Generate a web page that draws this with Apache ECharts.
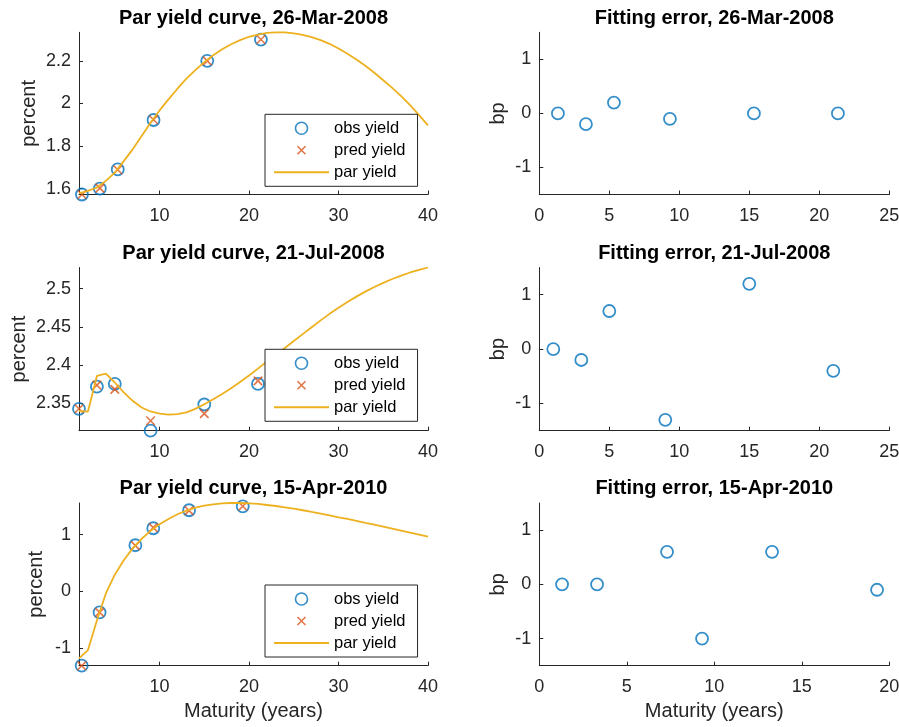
<!DOCTYPE html>
<html>
<head>
<meta charset="utf-8">
<script src="https://cdn.jsdelivr.net/npm/echarts@6/dist/echarts.min.js"></script>
<style>html,body{margin:0;padding:0;background:#fff}#c{width:899px;height:727px}</style>
</head>
<body>
<div id="c"></div>
<script>
// ---------------- data ----------------
const dates = ['26-Mar-2008', '21-Jul-2008', '15-Apr-2010'];
const parMat = [1,2,3,4,5,6,7,8,9,10,11,12,13,14,15,16,17,18,19,20,21,22,23,24,25,26,27,28,29,30,31,32,33,34,35,36,37,38,39,40];

const mat1 = [1.33, 3.33, 5.33, 9.33, 15.33, 21.33];
const obs1 = [1.572, 1.600, 1.690, 1.922, 2.200, 2.300];
const pred1 = [1.572, 1.602, 1.688, 1.923, 2.200, 2.300];
const err1 = [0, -0.2, 0.2, -0.1, 0, 0];
const par1 = [1.577,1.589,1.605,1.636,1.675,1.729,1.784,1.847,1.909,1.967,2.019,2.069,2.116,2.156,2.194,2.226,2.254,2.278,2.297,2.313,2.323,2.331,2.334,2.334,2.329,2.322,2.311,2.297,2.280,2.258,2.233,2.206,2.177,2.144,2.109,2.073,2.034,1.992,1.945,1.897];

const mat2 = [1, 3, 5, 9, 15, 21];
const obs2 = [2.3431, 2.3720, 2.3755, 2.3145, 2.3487, 2.3755];
const pred2 = [2.3431, 2.3740, 2.3685, 2.3275, 2.3367, 2.3795];
const err2 = [0, -0.2, 0.7, -1.3, 1.2, -0.4];
const par2 = [2.3405,2.3395,2.3860,2.3890,2.3774,2.3644,2.3535,2.3448,2.3396,2.3369,2.3356,2.3362,2.3385,2.3430,2.3490,2.3555,2.3625,2.3700,2.3780,2.3865,2.3955,2.4050,2.4145,2.4225,2.4315,2.4405,2.4495,2.4585,2.4670,2.4750,2.4825,2.4895,2.4960,2.5020,2.5075,2.5125,2.5170,2.5210,2.5245,2.5275];

const mat3 = [1.3, 3.3, 7.3, 9.3, 13.3, 19.3];
const obs3 = [-1.317, -0.376, 0.811, 1.111, 1.429, 1.499];
const pred3 = [-1.317, -0.376, 0.805, 1.121, 1.423, 1.500];
const err3 = [0, 0, 0.6, -1.0, 0.6, -0.1];
const par3 = [-1.187,-1.041,-0.520,-0.040,0.290,0.545,0.755,0.925,1.065,1.180,1.275,1.358,1.423,1.476,1.511,1.534,1.552,1.557,1.557,1.552,1.540,1.522,1.504,1.481,1.458,1.429,1.399,1.370,1.340,1.305,1.275,1.240,1.205,1.176,1.141,1.106,1.071,1.035,1.000,0.965];

// tick values / labels
const yTicks1 = [1.6, 1.8, 2, 2.2];        const yLabels1 = ['1.6', '1.8', '2', '2.2'];
const yTicks2 = [2.35, 2.4, 2.45, 2.5];    const yLabels2 = ['2.35', '2.4', '2.45', '2.5'];
const yTicks3 = [-1, 0, 1];                const yLabels3 = ['-1', '0', '1'];
const xTicksPar = [10, 20, 30, 40];        const xLabelsPar = ['10', '20', '30', '40'];
const errTicks = [-1, 0, 1];               const errLabels = ['-1', '0', '1'];
const xTicksErrA = [0, 5, 10, 15, 20, 25]; const xLabelsErrA = ['0', '5', '10', '15', '20', '25'];
const xTicksErrB = [0, 5, 10, 15, 20];     const xLabelsErrB = ['0', '5', '10', '15', '20'];

const legendNames = ['obs yield', 'pred yield', 'par yield'];

// ---------------- styling / layout ----------------
const FONT = '"Liberation Sans", Arial, Helvetica, sans-serif';
const AX = '#262626';
const C_OBS = '#0072BD', C_PRED = '#D95319', C_PAR = '#EDB120';
const leftX = 79, leftW = 349, rightX = 539.3, rightW = 350;
const rowTop = [32.3, 267.5, 503];
const rowH = [162.2, 163.2, 162.7];
const titleTop = [8.5, 243, 478.5];
const legendTop = [114.3, 349.3, 585];
const yNameGapLeft = [40, 50, 33];
const CROSS = 'path://M0,0L10,10M10,0L0,10';
const CROSS_LEGEND = 'path://M0,0L0.01,0M2,2L10,10M10,2L2,10M12,12L12.01,12';

function fmt(ticks, labels) {
  return function (v) {
    for (let i = 0; i < ticks.length; i++) if (Math.abs(ticks[i] - v) < 1e-9) return labels[i];
    return '';
  };
}
function pairs(xs, ys) { return xs.map((x, i) => [x, ys[i]]); }

const panels = [
  { mat: mat1, obs: obs1, pred: pred1, err: err1, par: par1, yT: yTicks1, yL: yLabels1, xeT: xTicksErrA, xeL: xLabelsErrA, xeMax: 25 },
  { mat: mat2, obs: obs2, pred: pred2, err: err2, par: par2, yT: yTicks2, yL: yLabels2, xeT: xTicksErrA, xeL: xLabelsErrA, xeMax: 25 },
  { mat: mat3, obs: obs3, pred: pred3, err: err3, par: par3, yT: yTicks3, yL: yLabels3, xeT: xTicksErrB, xeL: xLabelsErrB, xeMax: 20 }
];

const grid = [], xAxis = [], yAxis = [], series = [], title = [], legend = [];

function axisCommon(ticks, labels, margin) {
  return {
    type: 'value',
    splitLine: { show: false },
    axisLine: { show: true, onZero: false, lineStyle: { color: AX, width: 1 } },
    axisTick: { show: true, inside: true, length: 4, customValues: ticks, lineStyle: { color: AX, width: 1 } },
    axisLabel: { customValues: ticks, formatter: fmt(ticks, labels), margin: margin,
                 color: AX, fontFamily: FONT, fontSize: 18 },
    nameTextStyle: { color: AX, fontFamily: FONT, fontSize: 20 }
  };
}

panels.forEach((p, r) => {
  const last = r === panels.length - 1;
  // ---- left: par yield curve ----
  const gL = grid.length;
  grid.push({ left: leftX, top: rowTop[r], width: leftW, height: rowH[r], outerBoundsMode: 'none', containLabel: false });
  const allY = p.obs.concat(p.pred, p.par);
  xAxis.push(Object.assign(axisCommon(xTicksPar, xLabelsPar, 12.5), {
    gridIndex: gL, min: Math.min.apply(null, parMat), max: Math.max.apply(null, parMat),
    name: last ? 'Maturity (years)' : '', nameLocation: 'middle', nameGap: 36
  }));
  yAxis.push(Object.assign(axisCommon(p.yT, p.yL, 8), {
    gridIndex: gL, min: Math.min.apply(null, allY), max: Math.max.apply(null, allY),
    name: 'percent', nameLocation: 'middle', nameGap: yNameGapLeft[r]
  }));
  series.push({
    name: 'obs yield', type: 'scatter', xAxisIndex: gL, yAxisIndex: gL, clip: false,
    symbol: 'circle', symbolSize: 12,
    itemStyle: { color: 'rgba(0,0,0,0)', borderColor: C_OBS, borderWidth: 1.8 },
    data: pairs(p.mat, p.obs)
  });
  series.push({
    name: 'pred yield', type: 'scatter', xAxisIndex: gL, yAxisIndex: gL, clip: false,
    symbol: CROSS, symbolSize: 8.5,
    itemStyle: { color: 'rgba(0,0,0,0)', borderColor: C_PRED, borderWidth: 1.6 },
    data: pairs(p.mat, p.pred)
  });
  series.push({
    name: 'par yield', type: 'line', xAxisIndex: gL, yAxisIndex: gL, clip: false,
    symbol: 'none', showSymbol: false,
    lineStyle: { color: C_PAR, width: 1.8 }, itemStyle: { color: C_PAR },
    data: pairs(parMat, p.par)
  });
  title.push({
    text: 'Par yield curve, ' + dates[r], left: leftX + leftW / 2, top: titleTop[r], textAlign: 'center', padding: 0,
    textStyle: { fontFamily: FONT, fontSize: 20, fontWeight: 'bold', color: '#000' }
  });
  legend.push({
    data: [
      { name: legendNames[0] },
      { name: legendNames[1], icon: CROSS_LEGEND },
      { name: legendNames[2], itemStyle: { opacity: 0 } }
    ],
    orient: 'vertical', left: 265, top: legendTop[r],
    padding: [3, 12, 3, 8], itemWidth: 55, itemHeight: 12, itemGap: 0,
    backgroundColor: '#fff', borderColor: AX, borderWidth: 1, borderRadius: 0,
    selectedMode: false,
    itemStyle: { borderWidth: 1.6 },
    textStyle: { fontFamily: FONT, fontSize: 16.5, color: '#000', lineHeight: 22 }
  });

  // ---- right: fitting error ----
  const gR = grid.length;
  grid.push({ left: rightX, top: rowTop[r], width: rightW, height: rowH[r], outerBoundsMode: 'none', containLabel: false });
  xAxis.push(Object.assign(axisCommon(p.xeT, p.xeL, 12.5), {
    gridIndex: gR, min: 0, max: p.xeMax, interval: 5,
    name: last ? 'Maturity (years)' : '', nameLocation: 'middle', nameGap: 36
  }));
  yAxis.push(Object.assign(axisCommon(errTicks, errLabels, 8), {
    gridIndex: gR, min: -1.5, max: 1.5,
    name: 'bp', nameLocation: 'middle', nameGap: 31
  }));
  series.push({
    name: 'fitting error ' + (r + 1), type: 'scatter', xAxisIndex: gR, yAxisIndex: gR, clip: false,
    symbol: 'circle', symbolSize: 12,
    itemStyle: { color: 'rgba(0,0,0,0)', borderColor: C_OBS, borderWidth: 1.8 },
    data: pairs(p.mat, p.err)
  });
  title.push({
    text: 'Fitting error, ' + dates[r], left: rightX + rightW / 2, top: titleTop[r], textAlign: 'center', padding: 0,
    textStyle: { fontFamily: FONT, fontSize: 20, fontWeight: 'bold', color: '#000' }
  });
});

const chart = echarts.init(document.getElementById('c'), null, { renderer: 'canvas' });
chart.setOption({
  animation: false,
  backgroundColor: '#fff',
  textStyle: { fontFamily: FONT },
  title: title, legend: legend, grid: grid, xAxis: xAxis, yAxis: yAxis, series: series
});
</script>
</body>
</html>
